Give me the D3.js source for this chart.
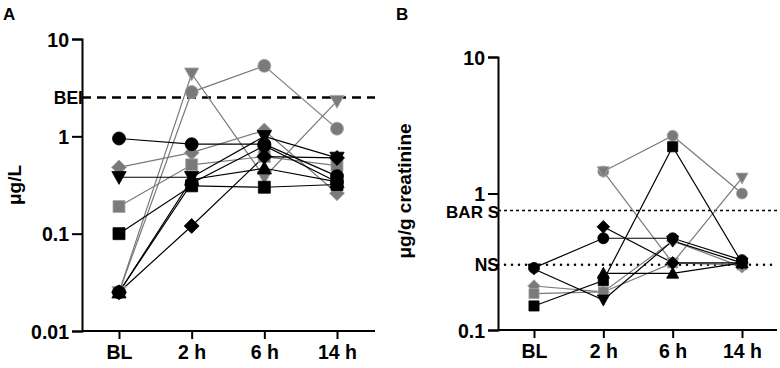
<!DOCTYPE html>
<html>
<head>
<meta charset="utf-8">
<script src="https://cdn.jsdelivr.net/npm/d3@7"></script>
<style>
  body { margin: 0; background: #fff; }
  svg text { font-family: "Liberation Sans", Arial, sans-serif; font-weight: bold; }
</style>
</head>
<body>
<svg id="chart" width="780" height="368"></svg>
<script>
// categories and tick labels
var times = ["BL", "2 h", "6 h", "14 h"];
var ticksA = [0.01, 0.1, 1, 10];
var ticksB = [0.1, 1, 10];

// panel A series (ug/L)
var seriesA = [
  { shape: "circle",   fill: "gray",  vals: [0.025, 2.85, 5.3, 1.2] },
  { shape: "triDown",  fill: "gray",  vals: [0.025, 4.4, 0.38, 2.3] },
  { shape: "diamond",  fill: "gray",  vals: [0.48, 0.68, 1.15, 0.26] },
  { shape: "square",   fill: "gray",  vals: [0.19, 0.51, 0.62, 0.5] },
  { shape: "square",   fill: "black", vals: [0.1, 0.31, 0.3, 0.32] },
  { shape: "diamond",  fill: "black", vals: [0.025, 0.12, 0.62, 0.6] },
  { shape: "triUp",    fill: "black", vals: [0.025, 0.36, 0.47, 0.34] },
  { shape: "triDown",  fill: "black", vals: [0.38, 0.38, 1.0, 0.6] },
  { shape: "circle",   fill: "black", vals: [0.95, 0.83, 0.83, 0.39] },
  { shape: "circle",   fill: "black", vals: [0.025, 0.33, 0.8, 0.34] }
];
var beiValue = 2.5;

// panel B series (ug/g creatinine)
var seriesB = [
  { shape: "circle",   fill: "gray",  vals: [null, 1.45, 2.65, 1.0] },
  { shape: "triDown",  fill: "gray",  vals: [null, 1.45, 0.31, 1.3] },
  { shape: "diamond",  fill: "gray",  vals: [0.21, 0.19, 0.45, 0.29] },
  { shape: "square",   fill: "gray",  vals: [0.185, 0.19, 0.31, 0.3] },
  { shape: "square",   fill: "black", vals: [0.15, 0.23, 2.2, 0.31] },
  { shape: "triUp",    fill: "black", vals: [null, 0.26, 0.26, 0.31] },
  { shape: "diamond",  fill: "black", vals: [null, 0.57, 0.31, 0.31] },
  { shape: "triDown",  fill: "black", vals: [0.28, 0.166, 0.45, 0.31] },
  { shape: "circle",   fill: "black", vals: [0.285, 0.47, 0.47, 0.325] }
];
var barValue = 0.75;
var nsValue = 0.3;

var svg = d3.select("#chart");
var colors = { gray: "#7a7a7a", black: "#000000" };

function markerPath(shape, r) {
  var s;
  if (shape == "circle") return d3.symbol().type(d3.symbolCircle).size(Math.PI * r * r)();
  if (shape == "square") { s = r * 0.92; return "M" + (-s) + "," + (-s) + "H" + s + "V" + s + "H" + (-s) + "Z"; }
  if (shape == "diamond") { s = r * 1.15; return "M0," + (-s) + "L" + s + ",0L0," + s + "L" + (-s) + ",0Z"; }
  if (shape == "triUp") { s = r * 1.1; return "M0," + (-s) + "L" + s + "," + (s * 0.8) + "L" + (-s) + "," + (s * 0.8) + "Z"; }
  if (shape == "triDown") { s = r * 1.1; return "M0," + s + "L" + s + "," + (-s * 0.8) + "L" + (-s) + "," + (-s * 0.8) + "Z"; }
}

function panel(opt) {
  var g = svg.append("g");
  var x = d3.scalePoint().domain(times).range(opt.xRange);
  var y = d3.scaleLog().domain(opt.yDomain).range(opt.yRange);

  // reference lines
  opt.refs.forEach(function (r) {
    g.append("line")
      .attr("x1", opt.axisX).attr("x2", opt.axisEnd)
      .attr("y1", y(r.value)).attr("y2", y(r.value))
      .attr("stroke", "#000").attr("stroke-width", r.width)
      .attr("stroke-dasharray", r.dash)
      .attr("stroke-linecap", r.cap || "butt");
    g.append("text")
      .attr("x", opt.axisX + 1).attr("y", y(r.value))
      .attr("text-anchor", "end").attr("dy", r.dy || "0.36em")
      .style("font-size", r.size || "17.5px")
      .text(r.label);
  });

  // series lines then markers
  var line = d3.line()
    .defined(function (d) { return d.v != null; })
    .x(function (d) { return x(d.t); })
    .y(function (d) { return y(d.v); });

  opt.series.forEach(function (s) {
    var pts = s.vals.map(function (v, i) { return { t: times[i], v: v }; });
    g.append("path")
      .datum(pts)
      .attr("d", line)
      .attr("fill", "none")
      .attr("stroke", colors[s.fill])
      .attr("stroke-width", 1.2);
  });
  opt.series.forEach(function (s) {
    var pts = s.vals.map(function (v, i) { return { t: times[i], v: v }; })
      .filter(function (d) { return d.v != null; });
    g.selectAll(null)
      .data(pts)
      .enter()
      .append("path")
      .attr("d", markerPath(s.shape, opt.r))
      .attr("transform", function (d) { return "translate(" + x(d.t) + "," + y(d.v) + ")"; })
      .attr("fill", colors[s.fill])
      .attr("stroke", s.fill == "gray" ? "#a6a6a6" : "#000")
      .attr("stroke-width", 0.8);
  });

  // axes
  var yAxis = g.append("g")
    .attr("transform", "translate(" + opt.axisX + ",0)")
    .call(d3.axisLeft(y).tickValues(opt.ticks).tickFormat(function (d) { return String(d); })
      .tickSize(10).tickPadding(3));
  var xAxis = g.append("g")
    .attr("transform", "translate(0," + opt.yRange[0] + ")")
    .call(d3.axisBottom(x).tickSize(8).tickPadding(6));
  xAxis.select(".domain").attr("d", "M" + opt.axisX + ",0H" + opt.axisEnd);
  [yAxis, xAxis].forEach(function (a) {
    a.selectAll(".domain, line").attr("stroke", "#000").attr("stroke-width", 2);
    a.selectAll("text").style("font-size", "19.5px").attr("fill", "#000");
  });
  yAxis.selectAll("text").attr("dy", "0.36em");

  // axis title and panel letter
  g.append("text")
    .attr("transform", "translate(" + opt.titleX + "," + opt.titleY + ") rotate(-90)")
    .attr("text-anchor", "middle")
    .style("font-size", "19px")
    .text(opt.title);
  g.append("text")
    .attr("x", opt.letterX).attr("y", 20)
    .style("font-size", "17px")
    .text(opt.letter);
}

panel({
  series: seriesA, xRange: [119, 337], yDomain: [0.01, 10], yRange: [331, 39],
  axisX: 82, axisEnd: 375, ticks: ticksA, r: 6.5,
  refs: [{ value: beiValue, label: "BEI", width: 2.5, dash: "9,6" }],
  title: "\u03bcg/L", titleX: 21, titleY: 185, letter: "A", letterX: 3
});

panel({
  series: seriesB, xRange: [534, 742], yDomain: [0.1, 10], yRange: [330, 57],
  axisX: 498, axisEnd: 777, ticks: ticksB, r: 5.5,
  refs: [
    { value: barValue, label: "BAR S", width: 1.5, dash: "3,3", size: "17px", dy: "0.42em" },
    { value: nsValue, label: "NS", width: 2.5, dash: "0,7", cap: "round" }
  ],
  title: "\u03bcg/g creatinine", titleX: 411, titleY: 191, letter: "B", letterX: 396
});
</script>
</body>
</html>
